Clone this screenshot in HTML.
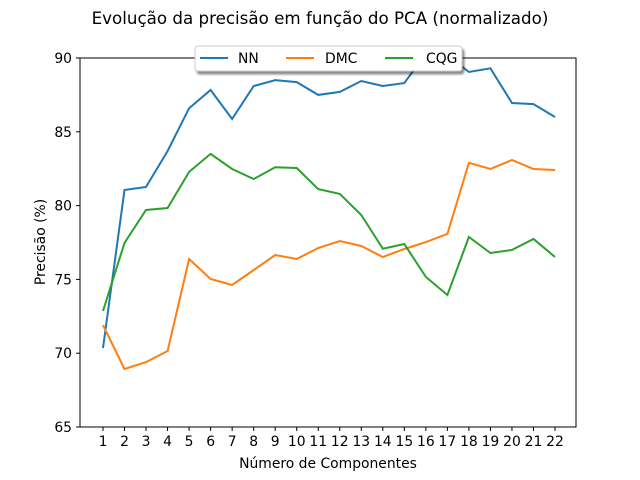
<!DOCTYPE html>
<html><head><meta charset="utf-8"><style>
body{margin:0;background:#fff;}
svg{display:block;font-family:"DejaVu Sans","Liberation Sans",sans-serif;}
</style></head><body>
<svg id="chart" width="640" height="480">
<defs><clipPath id="clip"><rect x="80" y="58" width="496" height="369"/></clipPath>
<filter id="sh" x="-10%" y="-30%" width="130%" height="180%"><feDropShadow dx="2" dy="3" stdDeviation="1" flood-color="#000" flood-opacity="0.45"/></filter></defs>
<text x="320" y="24" text-anchor="middle" font-size="16.7">Evolução da precisão em função do PCA (normalizado)</text>
<g id="plot"></g>
<rect x="80" y="58" width="496" height="369" fill="none" stroke="#000" stroke-width="1"/>
<text x="328" y="468" text-anchor="middle" font-size="13.9">Número de Componentes</text>
<text transform="translate(45,242) rotate(-90)" text-anchor="middle" font-size="13.9">Precisão (%)</text>
<g>
<rect x="195" y="46" width="267" height="25" rx="3" fill="#fff" stroke="#ccc" filter="url(#sh)"/>
<line x1="200" y1="58" x2="228" y2="58" stroke="#1f77b4" stroke-width="2"/>
<text x="238" y="63" font-size="13.9">NN</text>
<line x1="286" y1="58" x2="314" y2="58" stroke="#ff7f0e" stroke-width="2"/>
<text x="325" y="63" font-size="13.9">DMC</text>
<line x1="385" y1="58" x2="413" y2="58" stroke="#2ca02c" stroke-width="2"/>
<text x="426" y="63" font-size="13.9">CQG</text>
</g>
</svg>
<script>
const categories=[1,2,3,4,5,6,7,8,9,10,11,12,13,14,15,16,17,18,19,20,21,22];
const nnValues=[70.35,81.06,81.26,83.7,86.6,87.83,85.87,88.1,88.5,88.37,87.5,87.7,88.44,88.1,88.3,90.3,90.2,89.05,89.3,86.95,86.88,86.0];
const dmcValues=[71.9,68.93,69.4,70.15,76.38,75.03,74.62,75.64,76.65,76.38,77.13,77.6,77.26,76.52,77.06,77.53,78.08,82.9,82.48,83.09,82.48,82.41];
const cqgValues=[72.86,77.47,79.7,79.84,82.28,83.5,82.48,81.8,82.6,82.55,81.12,80.79,79.36,77.08,77.4,75.16,73.94,77.87,76.79,77.0,77.74,76.52];
const yTicks=[65,70,75,80,85,90];
const NS="http://www.w3.org/2000/svg";
function xs(v){return 103+(v-1)*21.524;}
function ys(v){return 427-(v-65)*14.76;}
const svg=document.getElementById('chart');
const plot=document.getElementById('plot');
function mk(t,a,p){const e=document.createElementNS(NS,t);for(const k in a)e.setAttribute(k,a[k]);(p||svg).appendChild(e);return e;}
categories.forEach(c=>{
  const l=mk('line',{x1:xs(c),x2:xs(c),y1:427,y2:431,stroke:'#000'});
  
  
  const t=mk('text',{x:xs(c),y:446,'text-anchor':'middle','font-size':13.9});
  t.textContent=c;
  
  
});
yTicks.forEach(v=>{
  const l=mk('line',{x1:76,x2:80,y1:ys(v),y2:ys(v),stroke:'#000'});
  
  
  const t=mk('text',{x:72,y:ys(v)+5,'text-anchor':'end','font-size':13.9});
  t.textContent=v;
  
  
});
[[nnValues,'#1f77b4','nn'],[dmcValues,'#ff7f0e','dmc'],[cqgValues,'#2ca02c','cqg']].forEach(([vals,col,n])=>{
  const pts=vals.map((v,i)=>xs(categories[i]).toFixed(1)+','+ys(v).toFixed(1)).join(' ');
  const p=mk('polyline',{points:pts,fill:'none',stroke:col,'stroke-width':2,'clip-path':'url(#clip)'},plot);
  
  
});
</script>
</body></html>
